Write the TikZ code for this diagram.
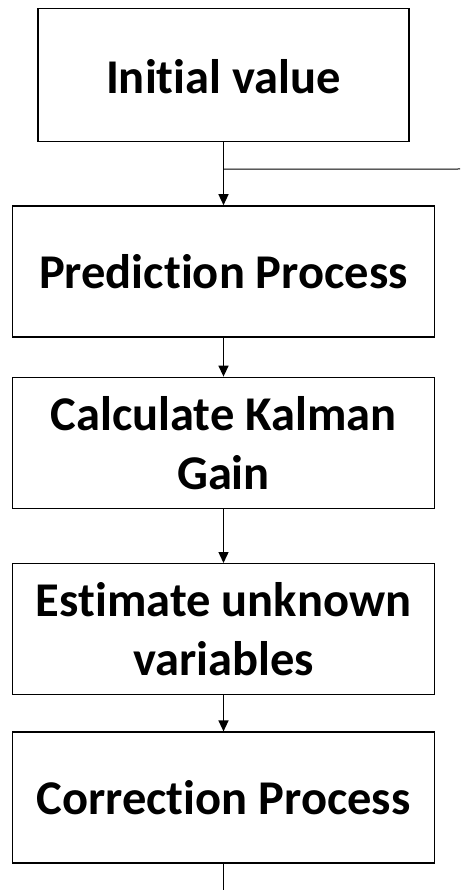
\documentclass[tikz,border=0pt]{standalone}
\usepackage{fontspec}
\setmainfont{Carlito}[Ligatures=NoCommon]
\usetikzlibrary{ % tikz packages
    positioning,
    arrows.meta
}
\tikzset{stepbox/.style={
    draw,
    line width=1.4pt,
    minimum width=422pt,
    minimum height=131pt,
    inner sep=0pt,
    align=center,
    font=\bfseries\fontsize{48.5}{59}\selectfont
}}
\tikzset{startbox/.style={
    stepbox,
    minimum width=371pt,
    minimum height=133pt,
    text height=37pt,
    text depth=0pt
}}
\tikzset{>={Triangle[width=10pt,length=11pt]}}

\begin{document}
\begin{tikzpicture}[x=1pt,y=1pt,line width=1.4pt]
        \useasboundingbox (0,0) rectangle (460,-890);

        \node[startbox] (init) at (223.5,-75) {Initial value};

        \node[stepbox] (pred) [below=63pt of init] {Prediction Process};
        \node[stepbox] (kalman) [below=39pt of pred] {Calculate Kalman\\Gain};
        \node[stepbox] (est) [below=54pt of kalman] {Estimate unknown\\variables};
        \node[stepbox] (corr) [below=36pt of est] {Correction Process};

        \path (init.south) ++(0,-27) coordinate (split);
        \coordinate (exit) at (460,-169);
        \coordinate (tail) at (223.5,-890);

        \path[->]
            (init)
                edge (pred)
            (pred)
                edge (kalman)
            (kalman)
                edge (est)
            (est)
                edge (corr);

        \draw[line width=1pt] (split) -- (exit);
        \draw (corr) -- (tail);
    \end{tikzpicture}
\end{document}
